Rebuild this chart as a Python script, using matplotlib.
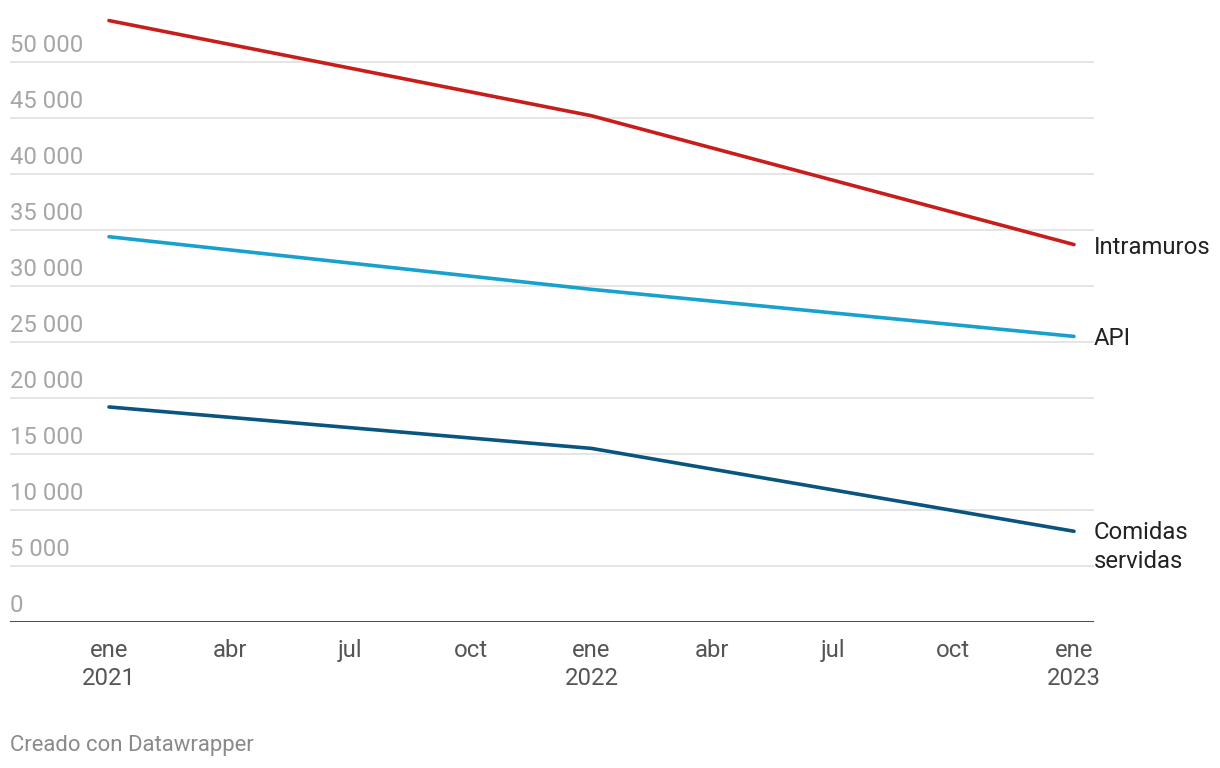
import matplotlib
matplotlib.use("Agg")
import matplotlib.pyplot as plt
import matplotlib.transforms as mtransforms

plt.rcParams['font.family'] = ['Roboto', 'DejaVu Sans']

# Data (months since Jan 2021)
months = [0, 12, 24]
intramuros = [53700, 45200, 33700]
api = [34400, 29700, 25500]
comidas = [19200, 15500, 8100]

series_names = ["Intramuros", "API", "Comidas\nservidas"]
series_colors = ["#c71e1d", "#18a1cd", "#09557f"]

xtick_pos = [0, 3, 6, 9, 12, 15, 18, 21, 24]
xtick_labels = ["ene\n2021", "abr", "jul", "oct", "ene\n2022", "abr", "jul", "oct", "ene\n2023"]
ytick_vals = [0, 5000, 10000, 15000, 20000, 25000, 30000, 35000, 40000, 45000, 50000]
ytick_labels = ["0", "5 000", "10 000", "15 000", "20 000", "25 000", "30 000",
                "35 000", "40 000", "45 000", "50 000"]

W, H = 1220, 768
fig = plt.figure(figsize=(W / 100, H / 100), dpi=100)
ax = fig.add_axes([10 / W, (H - 622) / H, 1084 / W, 612 / H])

px_per_month = (1074 - 109) / 24
ax.set_xlim(-(109 - 10) / px_per_month, 24 + (1094 - 1074) / px_per_month)
ax.set_ylim(0, 612 / 560 * 50000)

for s in ax.spines.values():
    s.set_visible(False)
ax.set_yticks([])

FS = 17.2

# grid lines
for v in ytick_vals[1:]:
    ax.axhline(v, color="#e3e3e3", lw=1.3, zorder=1)
ax.axhline(0, color="#111111", lw=1.8, zorder=3)

# y labels
ylab_tr = mtransforms.blended_transform_factory(ax.transAxes, ax.transData)
ylab_tr = ylab_tr + mtransforms.ScaledTranslation(0, 4.5 / 100, fig.dpi_scale_trans)
for v, lab in zip(ytick_vals, ytick_labels):
    ax.text(0, v, lab, transform=ylab_tr, ha="left", va="bottom",
            fontsize=FS, color="#a6a6a6")

# lines
for vals, c in zip([intramuros, api, comidas], series_colors):
    ax.plot(months, vals, color=c, lw=2.6, solid_capstyle="round", zorder=4)

# series labels
lab_x = 24 + 20 / px_per_month
tr_c = ax.transData + mtransforms.ScaledTranslation(0, -2.5 / 100, fig.dpi_scale_trans)
ax.text(lab_x, intramuros[-1], series_names[0], ha="left", va="center", transform=tr_c,
        fontsize=FS, color="#222222", clip_on=False)
ax.text(lab_x, api[-1], series_names[1], ha="left", va="center", transform=tr_c,
        fontsize=FS, color="#222222", clip_on=False)
tr = ax.transData + mtransforms.ScaledTranslation(0, 10 / 100, fig.dpi_scale_trans)
ax.text(lab_x, comidas[-1], series_names[2], ha="left", va="top", transform=tr,
        fontsize=FS, color="#222222", clip_on=False, linespacing=1.3)

# x ticks
ax.set_xticks(xtick_pos)
ax.set_xticklabels(xtick_labels, fontsize=FS, color="#555555", linespacing=1.28)
ax.tick_params(axis="x", length=0, pad=12.5)

fig.text(10 / W, 1 - 745 / H, "Creado con Datawrapper", ha="left", va="center",
         fontsize=15.9, color="#8a8a8a")

fig.savefig("out.png", dpi=100, facecolor="white")
